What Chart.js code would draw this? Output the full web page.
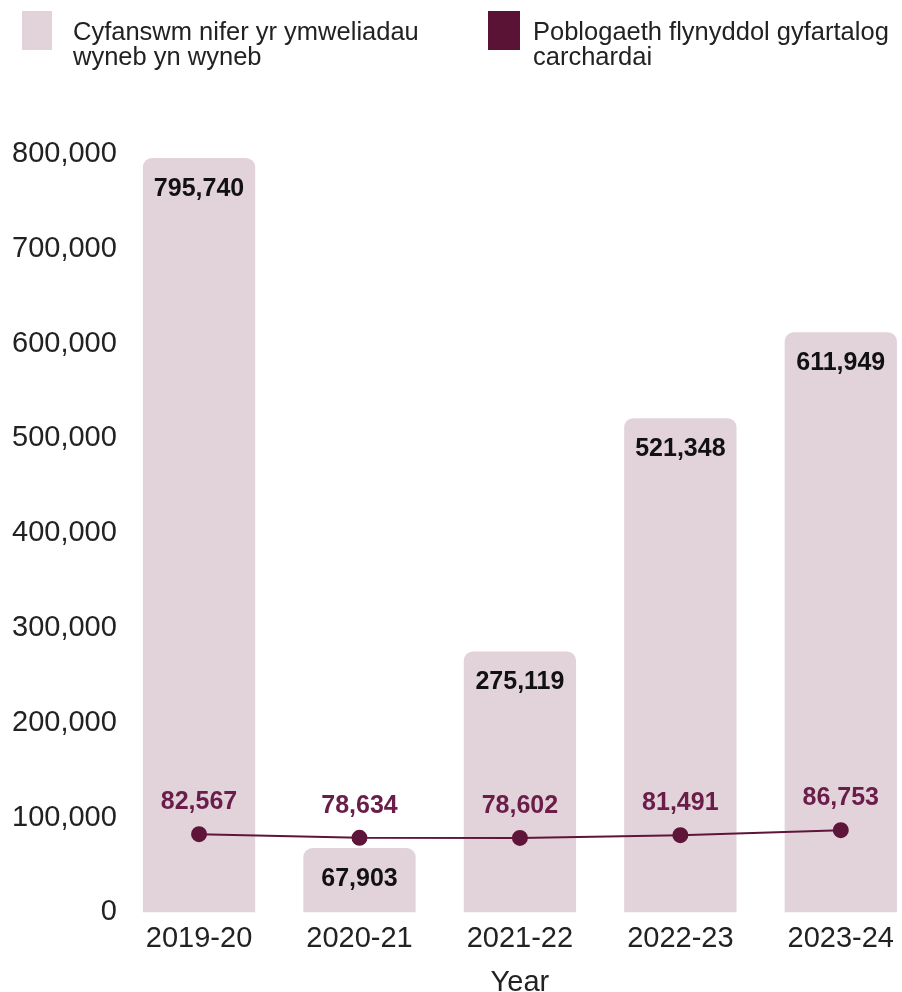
<!DOCTYPE html>
<html>
<head>
<meta charset="utf-8">
<script src="https://cdn.jsdelivr.net/npm/chart.js@4.4.1/dist/chart.umd.min.js"></script>
<style>
  html, body { margin: 0; padding: 0; background: #fff; overflow: hidden; }
  #wrap { position: relative; width: 930px; height: 1000px; }
  #chart { position: absolute; left: 0; top: 0; }
  .legend-item { position: absolute; top: 11px; display: flex; align-items: flex-start;
    font-family: "Liberation Sans", Arial, sans-serif; font-size: 25.5px; line-height: 25px; color: #222; }
  .legend-box { width: 30px; height: 39px; margin-right: 21px; flex: none; }
</style>
</head>
<body>
<div id="wrap">
  <canvas id="chart" width="930" height="1000"></canvas>
  <div class="legend-item" style="left:22px">
    <div class="legend-box" style="background:#e2d3da"></div>
    <div id="lg0" style="padding-top:8px"></div>
  </div>
  <div class="legend-item" style="left:488px">
    <div class="legend-box" style="background:#5a1235;width:32px;margin-right:13px"></div>
    <div id="lg1" style="padding-top:8px"></div>
  </div>
</div>
<script>
const years = ["2019-20", "2020-21", "2021-22", "2022-23", "2023-24"];
const visits = [795740, 67903, 275119, 521348, 611949];
const population = [82567, 78634, 78602, 81491, 86753];
const seriesNames = [
  ["Cyfanswm nifer yr ymweliadau", "wyneb yn wyneb"],
  ["Poblogaeth flynyddol gyfartalog", "carchardai"]
];
const yTicks = [0, 100000, 200000, 300000, 400000, 500000, 600000, 700000, 800000];

document.getElementById('lg0').innerHTML = seriesNames[0].join('<br>');
document.getElementById('lg1').innerHTML = seriesNames[1].join('<br>');

const fmt = v => v.toLocaleString('en-GB');
const FONT = '"Liberation Sans", Arial, sans-serif';

// draws value labels: inside bar tops, above line points
const valueLabels = {
  id: 'valueLabels',
  afterDatasetsDraw(chart) {
    const ctx = chart.ctx;
    ctx.save();
    ctx.textAlign = 'center';
    ctx.textBaseline = 'middle';
    ctx.font = 'bold 25px ' + FONT;
    chart.getDatasetMeta(1).data.forEach((bar, i) => {
      ctx.fillStyle = '#111';
      ctx.fillText(fmt(visits[i]), bar.x, bar.y + 31);
    });
    chart.getDatasetMeta(0).data.forEach((pt, i) => {
      ctx.fillStyle = '#6a1d48';
      ctx.fillText(fmt(population[i]), pt.x, pt.y - 32);
    });
    ctx.restore();
  }
};

new Chart(document.getElementById('chart'), {
  data: {
    labels: years,
    datasets: [
      {
        type: 'line',
        label: seriesNames[1].join(' '),
        data: population,
        borderColor: '#5e1539',
        backgroundColor: '#5e1539',
        borderWidth: 2,
        pointRadius: 7,
        pointBackgroundColor: '#5e1539',
        tension: 0,
        order: 0
      },
      {
        type: 'bar',
        label: seriesNames[0].join(' '),
        data: visits,
        backgroundColor: '#e2d3da',
        barPercentage: 0.7,
        categoryPercentage: 1,
        borderRadius: { topLeft: 9, topRight: 9 },
        borderSkipped: 'bottom',
        order: 1
      }
    ]
  },
  options: {
    responsive: false,
    animation: false,
    layout: { padding: { left: 10, top: 154, right: 3, bottom: 0 } },
    plugins: {
      legend: { display: false },
      tooltip: { enabled: false }
    },
    scales: {
      x: {
        grid: { display: false, drawTicks: false },
        border: { display: false },
        ticks: { color: '#222', font: { family: FONT, size: 29 }, padding: 9 },
        title: { display: true, text: 'Year', color: '#222', font: { family: FONT, size: 29 }, padding: { top: 0, bottom: 0 } }
      },
      y: {
        min: 0,
        max: 800000,
        afterBuildTicks: axis => { axis.ticks = yTicks.map(v => ({ value: v })); },
        grid: { display: false, drawTicks: false },
        border: { display: false },
        ticks: { color: '#222', font: { family: FONT, size: 29 }, padding: 2, callback: v => fmt(v) }
      }
    }
  },
  plugins: [valueLabels]
});
</script>
</body>
</html>
